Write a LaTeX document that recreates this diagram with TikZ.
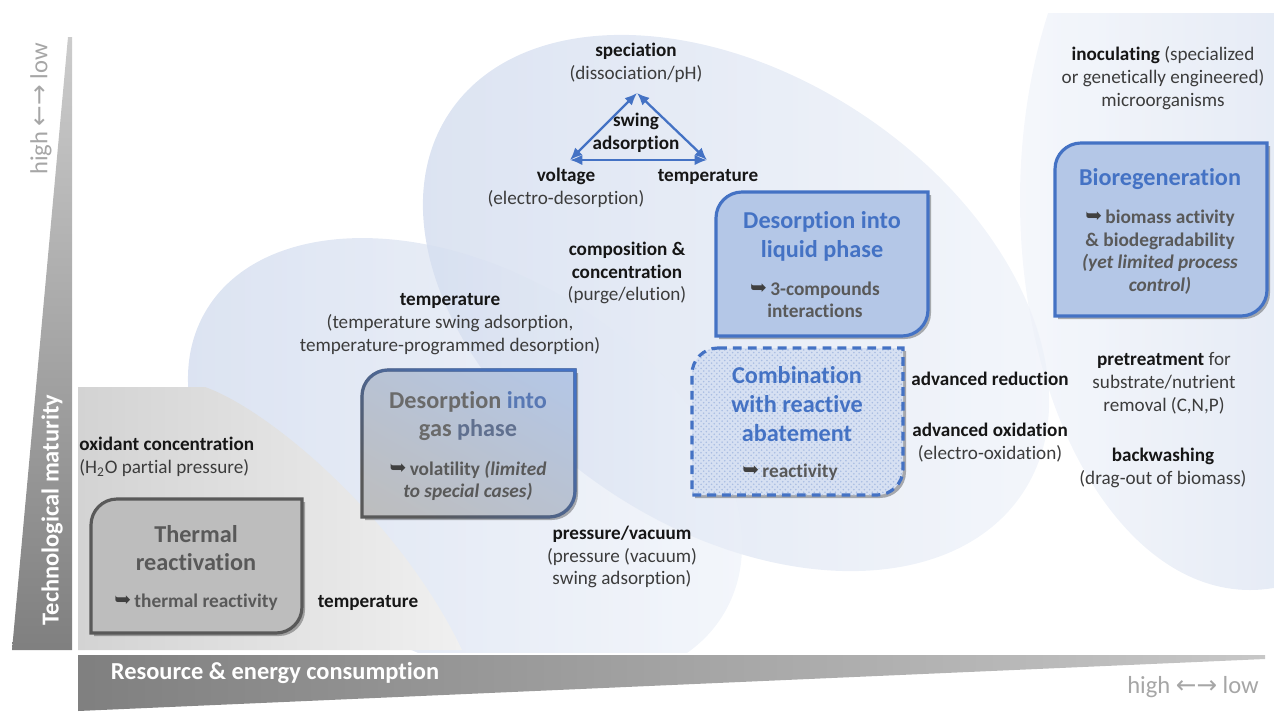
\documentclass[tikz,border=0pt]{standalone}
\usepackage{fontspec}
\setmainfont{Carlito}[Ligatures={NoCommon}, RawFeature={-liga;-clig}]
\newfontfamily\symfont{DejaVu Sans}
\usetikzlibrary{arrows.meta,patterns,fadings,shadings}
\definecolor{bA}{HTML}{4472C4}
\definecolor{bFill}{HTML}{B4C7E7}
\definecolor{gBox}{HTML}{BDBDBD}
\definecolor{gTxt}{HTML}{595959}
\definecolor{lTxt}{HTML}{161616}
\definecolor{nTxt}{HTML}{3C3C3C}
\definecolor{blobA}{HTML}{C2CFE8}
\definecolor{blobB}{HTML}{EEF2F9}
\definecolor{grayA}{HTML}{D3D3D3}
\definecolor{grayB}{HTML}{F0F0F0}
\definecolor{axT}{HTML}{A6A6A6}
\definecolor{arrC}{HTML}{404040}
\definecolor{gasG}{HTML}{6A6A6A}
\definecolor{gasB}{HTML}{5878B4}
\definecolor{gasM}{HTML}{60708F}
\definecolor{comboF}{HTML}{D6E0F2}
\definecolor{comboP}{HTML}{A9BDE2}
\tikzfading[name=fadeUR, left color=transparent!100, right color=transparent!0]
\newcommand\harr{\raisebox{0.5pt}{\symfont\fontsize{11.5}{11}\selectfont\textcolor{arrC}{➥}}\,}
\newcommand\bl[1]{\textcolor{lTxt}{\bfseries #1}}
\newcommand\twobox[6]{%
  \pgfmathsetmacro\bxa{#2+#6}%
  \pgfmathsetmacro\bxb{#3+#6}%
  \pgfmathsetmacro\bxc{#5-#6}%
  \pgfmathsetmacro\bxd{#4-#6}%
  \pgfmathsetmacro\bxk{0.448*#6}%
  \pgfmathsetmacro\bxe{#2+\bxk}%
  \pgfmathsetmacro\bxf{#3+\bxk}%
  \pgfmathsetmacro\bxg{#4-\bxk}%
  \pgfmathsetmacro\bxh{#5-\bxk}%
  \path[#1] (\bxa,#3) -- (#4,#3) -- (#4,\bxc) .. controls (#4,\bxh) and (\bxg,#5) .. (\bxd,#5) -- (#2,#5) -- (#2,\bxb) .. controls (#2,\bxf) and (\bxe,#3) .. (\bxa,#3) -- cycle;}
\begin{document}
\begin{tikzpicture}[x=0.02cm,y=-0.02cm,
  lab/.style={font=\fontsize{10.9}{13}\selectfont, text=nTxt, align=center, inner sep=0pt},
  title/.style={font=\fontsize{13.8}{16.4}\selectfont\bfseries, align=center, inner sep=0pt},
  sub/.style={font=\fontsize{11}{12.8}\selectfont\bfseries, text=gTxt, align=center, inner sep=0pt},
  axlab/.style={font=\fontsize{13.9}{15}\selectfont\bfseries, text=white, inner sep=0pt},
  axhl/.style={font=\fontsize{14}{15}\selectfont, text=axT, inner sep=0pt},
  tri/.style={draw=bA, line width=1.3pt, {Latex[length=7pt,width=6pt]}-{Latex[length=7pt,width=6pt]}},
  shadowb/.style={fill=black, fill opacity=0.3, shift={(3,3)}},
  blob/.style={fill opacity=0.6}
]
\useasboundingbox (0,0) rectangle (1274,711);
% background blobs
\begin{scope}
\clip (0,13) rectangle (1274,652);
\shade[blob, left color=blobA, right color=blobB, rotate around={-33.5:(736,303)}] (736,303) ellipse[x radius=344, y radius=227];
\shade[blob, left color=blobA, right color=blobB, rotate around={-30:(465,462)}] (465,462) ellipse[x radius=300, y radius=192];
\shade[blob, left color=blobB, right color=blobA] (1250,200) ellipse[x radius=230, y radius=390];
\end{scope}
\shade[left color=grayA, right color=grayB] (78,387) -- (205,387) .. controls (270,410) and (400,520) .. (462,650) -- (78,650) -- cycle;
% axes
\shade[bottom color=black!50, top color=black!20] (12,650) -- (72,650) -- (72,37) -- (68,37) -- cycle;
\shade[left color=black!50, right color=black!22] (78,655) -- (1265,655) -- (1265,659) -- (78,711) -- cycle;
\node[axlab, rotate=90] (ytit) at (52,510) {Technological maturity};
\node[axhl, rotate=90] (yhl) at (41,109) {high {\symfont ←→} low};
\node[axlab] (xtit) at (275,673) {Resource \& energy consumption};
\node[axhl] (xhl) at (1193,687) {high {\symfont ←→} low};
% thermal box
\twobox{shadowb}{91}{499}{302}{633}{26}
\twobox{fill=gBox, draw=gTxt, line width=1.8pt}{91}{499}{302}{633}{26}
\node[title, text=gTxt] (thT) at (196,548) {Thermal\\reactivation};
\node[sub] (thS) at (196,602) {\harr thermal reactivity};
% gas box
\twobox{shadowb}{362}{370}{575}{517}{26}
\twobox{shade, upper left=gBox!45!bFill, upper right=bFill, lower left=gBox, lower right=gBox!55!bFill}{362}{370}{575}{517}{26}
\twobox{draw=gTxt, line width=1.8pt}{362}{370}{575}{517}{26}
\twobox{draw=bA, line width=1.8pt, path fading=fadeUR, fading angle=45}{362}{370}{575}{517}{26}
\node[title] (gaT) at (468,416) {\textcolor{gasG}{Desorption} \textcolor{gasB}{into}\\\textcolor{gasG}{gas} \textcolor{gasM}{phase}};
\node[sub] (gaS) at (468,481) {\harr volatility \textit{(limited}\\\textit{to special cases)}};
% liquid box
\twobox{shadowb}{716}{192}{928}{336}{26}
\twobox{fill=bFill, draw=bA, line width=1.8pt}{716}{192}{928}{336}{26}
\node[title, text=bA] (liT) at (822,236) {Desorption into\\liquid phase};
\node[sub] (liS) at (815,300) {\harr 3-compounds\\interactions};
% combination box
\twobox{shadowb}{692}{348}{903}{495}{26}
\twobox{fill=comboF}{692}{348}{903}{495}{26}
\twobox{pattern=crosshatch dots, pattern color=comboP}{692}{348}{903}{495}{26}
\twobox{draw=bA, line width=1.8pt, dash pattern=on 5pt off 3.5pt}{692}{348}{903}{495}{26}
\node[title, text=bA] (cbT) at (797,404) {Combination\\with reactive\\abatement};
\node[sub] (cbS) at (790,472) {\harr reactivity};
% bioregeneration box
\twobox{shadowb}{1055}{143}{1267}{316}{26}
\twobox{fill=bFill, draw=bA, line width=1.8pt}{1055}{143}{1267}{316}{26}
\node[title, text=bA] (bioT) at (1160,179) {Bioregeneration};
\node[sub] (bioS) at (1160,252) {\harr biomass activity\\\& biodegradability\\\textit{(yet limited process}\\\textit{control)}};
% triangle
\coordinate (tT) at (637,93);
\coordinate (tL) at (570,160);
\coordinate (tR) at (707,160);
\draw[tri] (tT) -- (tL);
\draw[tri] (tT) -- (tR);
\draw[tri] (tL) -- (tR);
\node[lab] (sw) at (636,133) {\bl{swing}\\\bl{adsorption}};
% labels
\node[lab] (sp) at (636,63) {\bl{speciation}\\(dissociation/pH)};
\node[lab] (vo) at (566,188) {\bl{voltage}\\(electro-desorption)};
\node[lab] (te1) at (708,177) {\bl{temperature}};
\node[lab] (co) at (627,273) {\bl{composition \&}\\\bl{concentration}\\(purge/elution)};
\node[lab] (te2) at (450,324) {\bl{temperature}\\(temperature swing adsorption,\\temperature-programmed desorption)};
\node[lab, anchor=west, align=left] (ox) at (79,457) {\bl{oxidant concentration}\\(H\textsubscript{2}O partial pressure)};
\node[lab] (te3) at (368,603) {\bl{temperature}};
\node[lab] (pr) at (622,557) {\bl{pressure/vacuum}\\(pressure (vacuum)\\swing adsorption)};
\node[lab] (ar) at (990,379) {\bl{advanced reduction}};
\node[lab] (ao) at (990,443) {\bl{advanced oxidation}\\(electro-oxidation)};
\node[lab] (pt) at (1164,383) {\bl{pretreatment} for\\substrate/nutrient\\removal (C,N,P)};
\node[lab] (bw) at (1163,468) {\bl{backwashing}\\(drag-out of biomass)};
\node[lab] (in) at (1163,78) {\bl{inoculating} (specialized\\or genetically engineered)\\microorganisms};
\end{tikzpicture}
\end{document}
